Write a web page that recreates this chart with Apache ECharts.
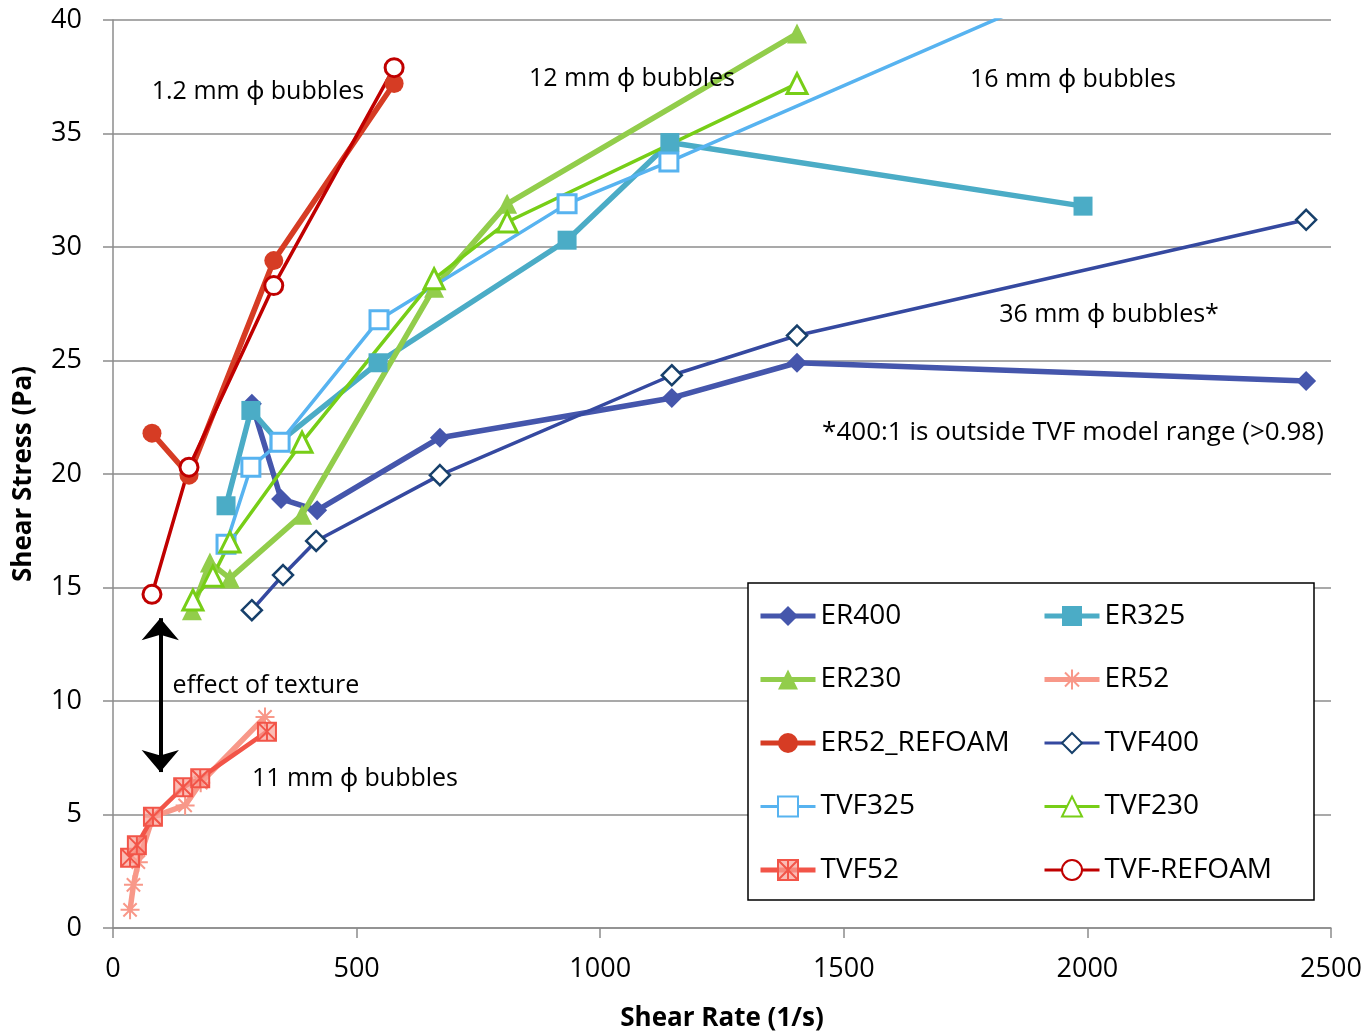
<!DOCTYPE html>
<html><head><meta charset="utf-8">
<script src="https://cdn.jsdelivr.net/npm/echarts@6/dist/echarts.min.js"></script>
<style>html,body{margin:0;padding:0;background:#fff}#c{width:1367px;height:1032px}</style>
</head><body><div id="c"></div>
<script>
// ---- data ----
const ER400 = [[285,23.1],[345,18.9],[419,18.4],[671,21.6],[1147,23.35],[1404,24.9],[2449,24.1]];
const ER325 = [[232,18.6],[283,22.8],[341,21.4],[544,24.9],[932,30.3],[1143,34.6],[1991,31.8]];
const ER230 = [[162,14.0],[199,16.1],[240,15.4],[388,18.2],[659,28.2],[809,31.9],[1404,39.4]];
const ER52 = [[35,0.8],[42,1.9],[52,2.9],[82,4.9],[148,5.4],[180,6.4],[312,9.3]];
const ER52_REFOAM = [[80,21.8],[156,19.95],[330,29.4],[577,37.2]];
const TVF400 = [[285,14.0],[349,15.55],[417,17.05],[671,19.95],[1147,24.35],[1404,26.1],[2449,31.2]];
const TVF325 = [[232,16.9],[283,20.3],[343,21.4],[546,26.8],[932,31.9],[1141,33.75],[1991,41.7]];
const TVF230 = [[164,14.45],[205,15.5],[240,17.0],[388,21.4],[659,28.6],[809,31.1],[1404,37.2]];
const TVF52 = [[35,3.1],[49,3.65],[82,4.9],[144,6.2],[179,6.6],[316,8.65]];
const TVF_REFOAM = [[80,14.7],[156,20.3],[330,28.3],[577,37.9]];
const xTicks = [0,500,1000,1500,2000,2500];
const yTicks = [0,5,10,15,20,25,30,35,40];

const FONT = '"Open Sans", "Noto Sans", sans-serif';
const ASTER = 'path://M0,5 L10,5 M5,0 L5,10 M1.5,1.5 L8.5,8.5 M8.5,1.5 L1.5,8.5';
const BOXX = 'path://M0,0 L10,0 L10,10 L0,10 Z M0,0 L10,10 M10,0 L0,10 M5,0 L5,10';

function s(name, data, color, width, symbol, size, fill, border, bw){
  return {
    name, type:'line', data, z:2,
    lineStyle:{color, width},
    symbol, symbolSize:size, showSymbol:true,
    itemStyle:{color: fill, borderColor: border, borderWidth: bw},
    emphasis:{disabled:true}, animation:false
  };
}
const series = [
  s('ER400', ER400, '#4556AC', 5.5, 'diamond', 20, '#4556AC', '#4556AC', 0),
  s('ER325', ER325, '#4BACC6', 5.5, 'rect', 19, '#4BACC6', '#4BACC6', 0),
  s('ER230', ER230, '#92CD4B', 5.5, 'triangle', 20, '#92CD4B', '#92CD4B', 0),
  s('ER52', ER52, '#F89889', 5.5, ASTER, 19, 'none', '#F89889', 2),
  s('ER52_REFOAM', ER52_REFOAM, '#D63C24', 5.5, 'circle', 19, '#D63C24', '#D63C24', 0),
  s('TVF400', TVF400, '#3549A0', 3.5, 'diamond', 20, '#ffffff', '#17406B', 2.5),
  s('TVF325', TVF325, '#57B3F0', 3.5, 'rect', 18, '#ffffff', '#57B3F0', 3),
  s('TVF230', TVF230, '#77CE17', 3.5, 'triangle', 20, '#ffffff', '#77CE17', 3),
  s('TVF52', TVF52, '#F25448', 4.5, BOXX, 18, 'rgba(248,160,150,0.7)', '#F25448', 2),
  s('TVF-REFOAM', TVF_REFOAM, '#C00000', 3.5, 'circle', 18, '#ffffff', '#C00000', 3)
];
series[9].markLine = {
  silent:true, animation:false,
  symbol:['arrow','arrow'], symbolSize:[28,22],
  lineStyle:{color:'#000', width:4, type:'solid'},
  label:{show:false},
  data:[[{coord:[97,13.65]},{coord:[97,6.87]}]]
};

const legendCommon = {
  orient:'vertical', itemWidth:55, itemHeight:25, itemGap:35.5,
  padding:0,
  textStyle:{fontFamily:FONT, fontSize:28, color:'#000'},
  z:10
};
function li(name, w){ return {name, lineStyle:{width:w}}; }

const option = {
  animation:false,
  textStyle:{fontFamily:FONT},
  grid:{left:113, right:36, top:20, bottom:104, containLabel:false, outerBoundsMode:'none'},
  xAxis:{
    type:'value', min:0, max:2500, interval:500,
    name:'Shear Rate (1/s)', nameLocation:'middle', nameGap:78,
    nameTextStyle:{fontFamily:FONT, fontSize:26, fontWeight:'bold', color:'#000'},
    axisLine:{show:true, lineStyle:{color:'#8c8c8c', width:1.5}},
    axisTick:{show:true, length:10, lineStyle:{color:'#8c8c8c', width:1.5}},
    axisLabel:{fontFamily:FONT, fontSize:27, color:'#000', margin:28,
      formatter:v=>xTicks.includes(v)?String(v):''},
    splitLine:{show:false}
  },
  yAxis:{
    type:'value', min:0, max:40, interval:5,
    name:'Shear Stress (Pa)', nameLocation:'middle', nameGap:76, nameRotate:90,
    nameTextStyle:{fontFamily:FONT, fontSize:26, fontWeight:'bold', color:'#000'},
    axisLine:{show:true, lineStyle:{color:'#8c8c8c', width:1.5}},
    axisTick:{show:true, length:10, lineStyle:{color:'#8c8c8c', width:1.5}},
    axisLabel:{fontFamily:FONT, fontSize:27, color:'#000', margin:31,
      formatter:v=>yTicks.includes(v)?String(v):''},
    splitLine:{show:true, lineStyle:{color:'#8c8c8c', width:1.5}}
  },
  legend:[
    Object.assign({}, legendCommon, {left:758, top:602,
      data:[li('ER400',5),li('ER230',5),li('ER52_REFOAM',5),li('TVF325',3),li('TVF52',5)]}),
    Object.assign({}, legendCommon, {left:1042, top:602,
      data:[li('ER325',5),li('ER52',5),li('TVF400',3),li('TVF230',3),li('TVF-REFOAM',3)]})
  ],
  graphic:[
    {type:'rect', shape:{x:748, y:583, width:566, height:317}, style:{fill:'#fff', stroke:'#000', lineWidth:1.5}, z:5, silent:true},
    {type:'text', x:258, y:92, style:{text:'1.2 mm ϕ bubbles', font:'25px '+FONT, fill:'#000', align:'center', verticalAlign:'middle'}, z:6},
    {type:'text', x:632, y:79, style:{text:'12 mm ϕ bubbles', font:'25px '+FONT, fill:'#000', align:'center', verticalAlign:'middle'}, z:6},
    {type:'text', x:1073, y:80, style:{text:'16 mm ϕ bubbles', font:'25px '+FONT, fill:'#000', align:'center', verticalAlign:'middle'}, z:6},
    {type:'text', x:1109, y:315, style:{text:'36 mm ϕ bubbles*', font:'25px '+FONT, fill:'#000', align:'center', verticalAlign:'middle'}, z:6},
    {type:'text', x:1073, y:433, style:{text:'*400:1 is outside TVF model range (>0.98)', font:'26px '+FONT, fill:'#000', align:'center', verticalAlign:'middle'}, z:6},
    {type:'text', x:266, y:686, style:{text:'effect of texture', font:'25px '+FONT, fill:'#000', align:'center', verticalAlign:'middle'}, z:6},
    {type:'text', x:355, y:779, style:{text:'11 mm ϕ bubbles', font:'25px '+FONT, fill:'#000', align:'center', verticalAlign:'middle'}, z:6}
  ],
  series
};
const chart = echarts.init(document.getElementById('c'), null, {renderer:'canvas'});
chart.setOption(option);
</script></body></html>
